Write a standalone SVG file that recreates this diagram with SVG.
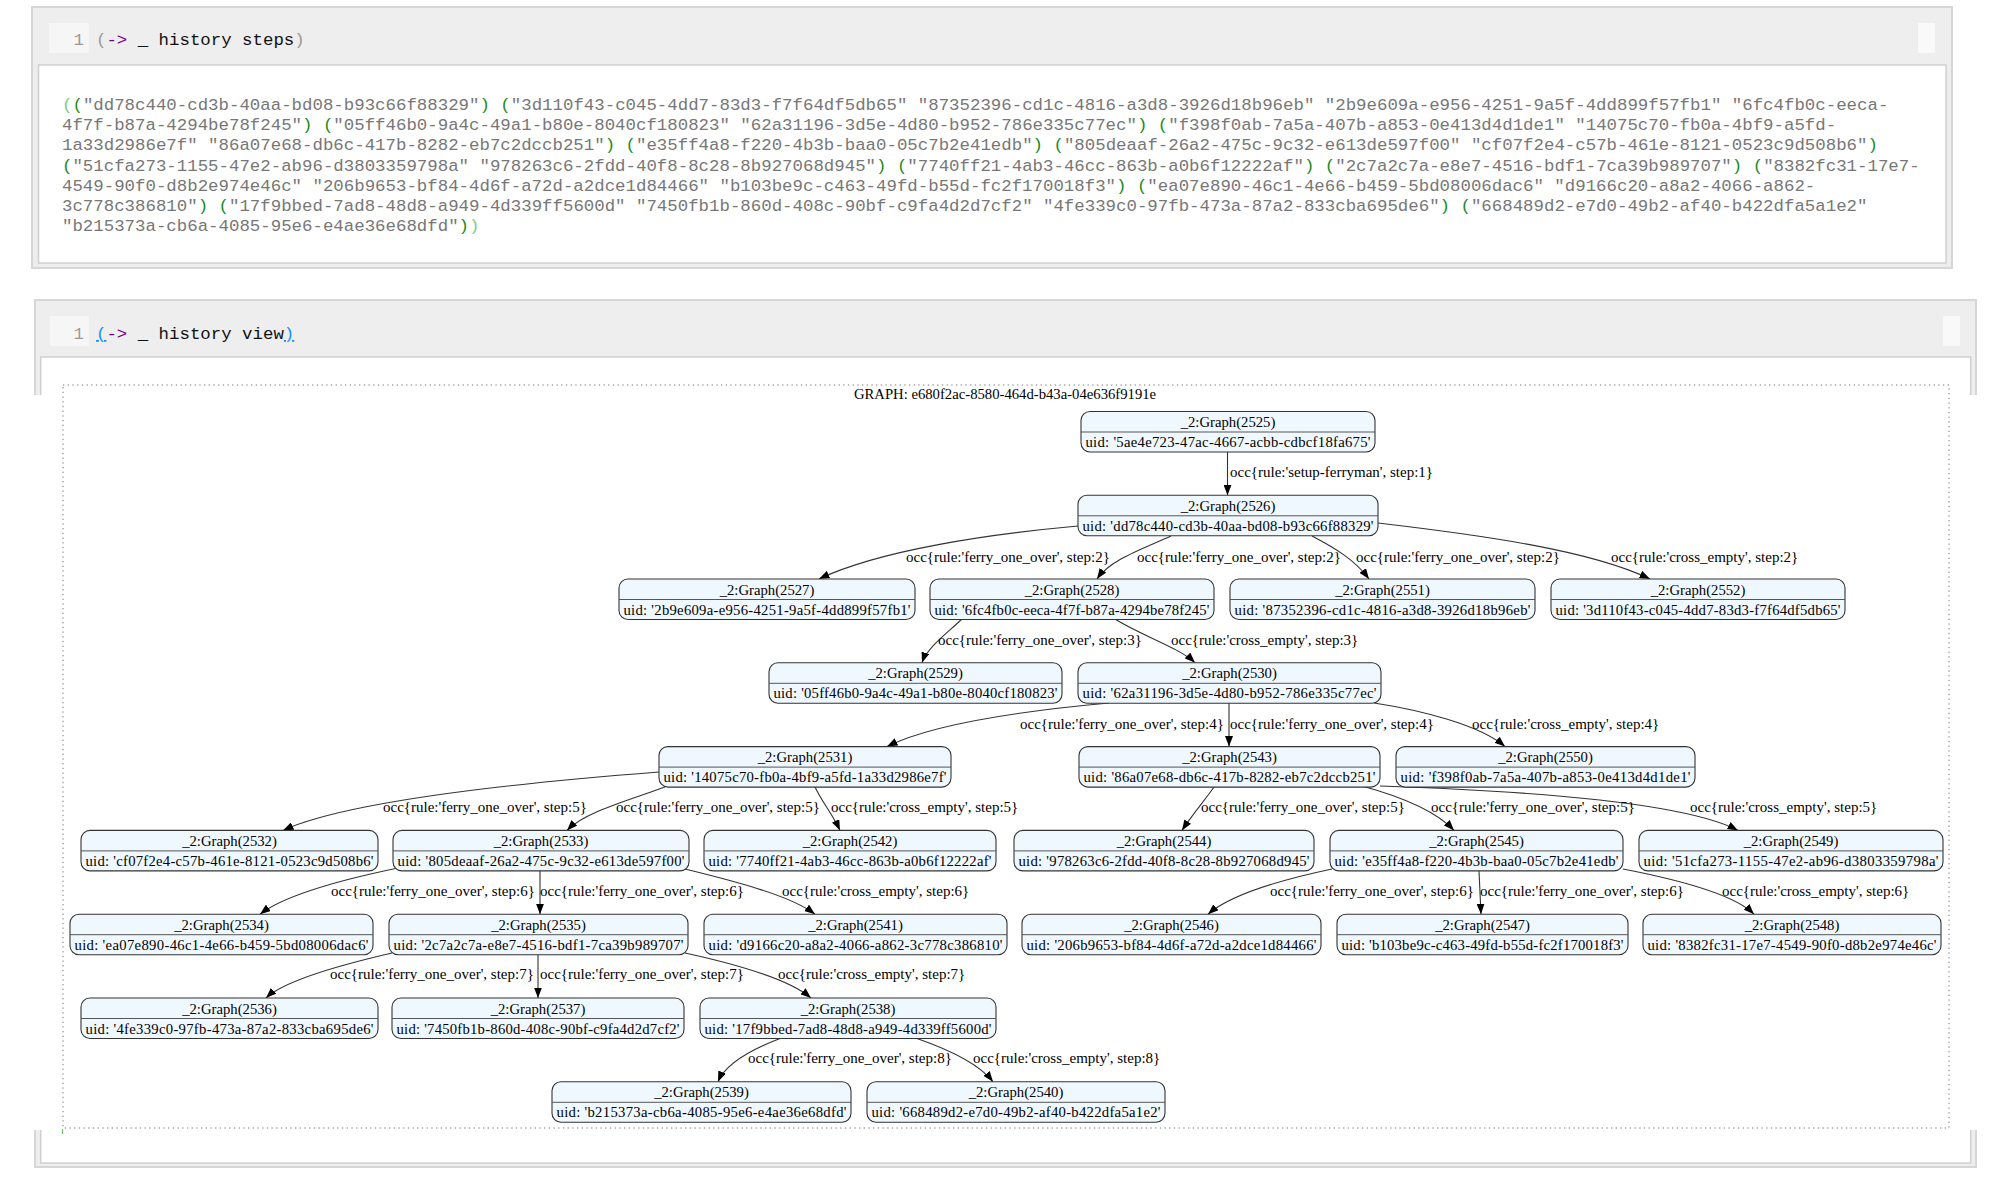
<svg xmlns="http://www.w3.org/2000/svg" width="2002" height="1187" viewBox="0 0 2002 1187">
<style>
.m{font-family:"Liberation Mono",monospace;font-size:17.4px;fill:#777}
.p{fill:#1b8a1b}
.po{fill:#7ccf7c}
.ln{fill:#999}
.ar{fill:#770088}
.k{fill:#111}
.bl{fill:#1a8cff;text-decoration:underline}
.g{font-family:"Liberation Serif",serif;font-size:14.7px;fill:#000}
.lbl{font-family:"Liberation Serif",serif;font-size:15px;fill:#000}
.node rect{fill:#f0f8ff;stroke:#333;stroke-width:1.1}
.node line{stroke:#555;stroke-width:1}
.node text{text-anchor:middle}
.edges path{fill:none;stroke:#333;stroke-width:1.1}
</style>
<defs>
<marker id="ah" markerWidth="11" markerHeight="8" refX="10.5" refY="4" orient="auto" markerUnits="userSpaceOnUse"><path d="M0,0 L10.5,4 L0,8 z" fill="#000"/></marker>
</defs>
<rect width="2002" height="1187" fill="#fff"/>
<!-- cell 1 -->
<g id="cell1">
<rect x="32" y="7" width="1920" height="261" fill="#eeeeee" stroke="#d6d6d6" stroke-width="2"/>
<rect x="38.5" y="65" width="1907.5" height="198" fill="#fff" stroke="#cfcfcf" stroke-width="1.5"/>
<rect x="49" y="23" width="40" height="30" fill="#f6f6f6"/>
<rect x="1918" y="23" width="17" height="30" fill="#f9f9f9"/>
<text class="m ln" x="84" y="45" text-anchor="end">1</text>
<text class="m" x="96" y="45"><tspan class="ln">(</tspan><tspan class="ar">-&gt;</tspan><tspan class="k"> _ history steps</tspan><tspan class="ln">)</tspan></text>
<text class="m" x="62" y="110"><tspan class="po">(</tspan><tspan class="p">(</tspan>"dd78c440-cd3b-40aa-bd08-b93c66f88329"<tspan class="p">)</tspan> <tspan class="p">(</tspan>"3d110f43-c045-4dd7-83d3-f7f64df5db65" "87352396-cd1c-4816-a3d8-3926d18b96eb" "2b9e609a-e956-4251-9a5f-4dd899f57fb1" "6fc4fb0c-eeca-</text>
<text class="m" x="62" y="130.2">4f7f-b87a-4294be78f245"<tspan class="p">)</tspan> <tspan class="p">(</tspan>"05ff46b0-9a4c-49a1-b80e-8040cf180823" "62a31196-3d5e-4d80-b952-786e335c77ec"<tspan class="p">)</tspan> <tspan class="p">(</tspan>"f398f0ab-7a5a-407b-a853-0e413d4d1de1" "14075c70-fb0a-4bf9-a5fd-</text>
<text class="m" x="62" y="150.4">1a33d2986e7f" "86a07e68-db6c-417b-8282-eb7c2dccb251"<tspan class="p">)</tspan> <tspan class="p">(</tspan>"e35ff4a8-f220-4b3b-baa0-05c7b2e41edb"<tspan class="p">)</tspan> <tspan class="p">(</tspan>"805deaaf-26a2-475c-9c32-e613de597f00" "cf07f2e4-c57b-461e-8121-0523c9d508b6"<tspan class="p">)</tspan></text>
<text class="m" x="62" y="170.6"><tspan class="p">(</tspan>"51cfa273-1155-47e2-ab96-d3803359798a" "978263c6-2fdd-40f8-8c28-8b927068d945"<tspan class="p">)</tspan> <tspan class="p">(</tspan>"7740ff21-4ab3-46cc-863b-a0b6f12222af"<tspan class="p">)</tspan> <tspan class="p">(</tspan>"2c7a2c7a-e8e7-4516-bdf1-7ca39b989707"<tspan class="p">)</tspan> <tspan class="p">(</tspan>"8382fc31-17e7-</text>
<text class="m" x="62" y="190.8">4549-90f0-d8b2e974e46c" "206b9653-bf84-4d6f-a72d-a2dce1d84466" "b103be9c-c463-49fd-b55d-fc2f170018f3"<tspan class="p">)</tspan> <tspan class="p">(</tspan>"ea07e890-46c1-4e66-b459-5bd08006dac6" "d9166c20-a8a2-4066-a862-</text>
<text class="m" x="62" y="211">3c778c386810"<tspan class="p">)</tspan> <tspan class="p">(</tspan>"17f9bbed-7ad8-48d8-a949-4d339ff5600d" "7450fb1b-860d-408c-90bf-c9fa4d2d7cf2" "4fe339c0-97fb-473a-87a2-833cba695de6"<tspan class="p">)</tspan> <tspan class="p">(</tspan>"668489d2-e7d0-49b2-af40-b422dfa5a1e2"</text>
<text class="m" x="62" y="231.2">"b215373a-cb6a-4085-95e6-e4ae36e68dfd"<tspan class="p">)</tspan><tspan class="po">)</tspan></text>
</g>
<!-- cell 2 -->
<g id="cell2">
<rect x="35" y="300" width="1941" height="867" fill="#eeeeee" stroke="#d6d6d6" stroke-width="2"/>
<rect x="40.7" y="357" width="1930" height="806" fill="#fff" stroke="#cfcfcf" stroke-width="1.5"/>
<rect x="0" y="395" width="2002" height="735" fill="#fff"/>
<rect x="50" y="316" width="39" height="30" fill="#f6f6f6"/>
<rect x="1943" y="316" width="17" height="30" fill="#f9f9f9"/>
<text class="m ln" x="84" y="339" text-anchor="end">1</text>
<text class="m" x="96" y="339"><tspan class="bl">(</tspan><tspan class="ar">-&gt;</tspan><tspan class="k"> _ history view</tspan><tspan class="bl">)</tspan></text>
<rect x="63" y="385" width="1886" height="743" fill="none" stroke="#777" stroke-width="1" stroke-dasharray="1.3,3.4"/>
<line x1="62.5" y1="1129" x2="62.5" y2="1134" stroke="#5c5" stroke-width="1"/>
<text class="g" x="1005" y="399" text-anchor="middle">GRAPH: e680f2ac-8580-464d-b43a-04e636f9191e</text>
</g>
<!-- connectors -->
<g id="connectors" class="edges">
<path marker-end="url(#ah)" d="M1227.5,452 L1227.5,495.3"/>
<path marker-end="url(#ah)" d="M1078,526 C990,534 880,550 819,579"/>
<path marker-end="url(#ah)" d="M1171,536 C1140,550 1110,560 1097,579"/>
<path marker-end="url(#ah)" d="M1312,536 C1335,548 1355,560 1369,579"/>
<path marker-end="url(#ah)" d="M1378,523 C1480,535 1590,550 1650,579"/>
<path marker-end="url(#ah)" d="M962,619 C945,635 927,648 922,662.8"/>
<path marker-end="url(#ah)" d="M1115,619 C1140,635 1180,648 1195,662.8"/>
<path marker-end="url(#ah)" d="M1109,703 C1010,712 930,725 887,746.6"/>
<path marker-end="url(#ah)" d="M1229,703 L1229,746.6"/>
<path marker-end="url(#ah)" d="M1374,703 C1420,710 1480,725 1505,746.6"/>
<path marker-end="url(#ah)" d="M659,772 C530,782 350,800 283,830.4"/>
<path marker-end="url(#ah)" d="M665,787 C630,800 585,812 567,830.4"/>
<path marker-end="url(#ah)" d="M815,787 C822,802 833,815 840,830.4"/>
<path marker-end="url(#ah)" d="M1214,787 C1205,800 1192,815 1182,830.4"/>
<path marker-end="url(#ah)" d="M1362,786 C1395,795 1435,810 1454,830.4"/>
<path marker-end="url(#ah)" d="M1380,786 C1500,790 1680,800 1738,830.4"/>
<path marker-end="url(#ah)" d="M398,868 C340,880 285,895 260,914.2"/>
<path marker-end="url(#ah)" d="M540,871 L540,914.2"/>
<path marker-end="url(#ah)" d="M681,868 C730,880 790,895 815,914.2"/>
<path marker-end="url(#ah)" d="M1332,869 C1280,880 1230,895 1208,914.2"/>
<path marker-end="url(#ah)" d="M1479,871 L1481,914.2"/>
<path marker-end="url(#ah)" d="M1623,869 C1680,880 1735,895 1754,914.2"/>
<path marker-end="url(#ah)" d="M392,953 C340,965 285,980 266,998"/>
<path marker-end="url(#ah)" d="M538,954.7 L538,998"/>
<path marker-end="url(#ah)" d="M685,953 C740,965 790,980 811,998"/>
<path marker-end="url(#ah)" d="M780,1038.5 C750,1050 725,1065 718,1081.8"/>
<path marker-end="url(#ah)" d="M917,1038.5 C950,1050 980,1065 993,1081.8"/>
<text class="lbl" x="1230" y="477">occ{rule:'setup-ferryman', step:1}</text>
<text class="lbl" x="906" y="562">occ{rule:'ferry_one_over', step:2}</text>
<text class="lbl" x="1137" y="562">occ{rule:'ferry_one_over', step:2}</text>
<text class="lbl" x="1356" y="562">occ{rule:'ferry_one_over', step:2}</text>
<text class="lbl" x="1611" y="562">occ{rule:'cross_empty', step:2}</text>
<text class="lbl" x="938" y="645">occ{rule:'ferry_one_over', step:3}</text>
<text class="lbl" x="1171" y="645">occ{rule:'cross_empty', step:3}</text>
<text class="lbl" x="1020" y="729">occ{rule:'ferry_one_over', step:4}</text>
<text class="lbl" x="1230" y="729">occ{rule:'ferry_one_over', step:4}</text>
<text class="lbl" x="1472" y="729">occ{rule:'cross_empty', step:4}</text>
<text class="lbl" x="383" y="812">occ{rule:'ferry_one_over', step:5}</text>
<text class="lbl" x="616" y="812">occ{rule:'ferry_one_over', step:5}</text>
<text class="lbl" x="831" y="812">occ{rule:'cross_empty', step:5}</text>
<text class="lbl" x="1201" y="812">occ{rule:'ferry_one_over', step:5}</text>
<text class="lbl" x="1431" y="812">occ{rule:'ferry_one_over', step:5}</text>
<text class="lbl" x="1690" y="812">occ{rule:'cross_empty', step:5}</text>
<text class="lbl" x="331" y="896">occ{rule:'ferry_one_over', step:6}</text>
<text class="lbl" x="540" y="896">occ{rule:'ferry_one_over', step:6}</text>
<text class="lbl" x="782" y="896">occ{rule:'cross_empty', step:6}</text>
<text class="lbl" x="1270" y="896">occ{rule:'ferry_one_over', step:6}</text>
<text class="lbl" x="1480" y="896">occ{rule:'ferry_one_over', step:6}</text>
<text class="lbl" x="1722" y="896">occ{rule:'cross_empty', step:6}</text>
<text class="lbl" x="330" y="979">occ{rule:'ferry_one_over', step:7}</text>
<text class="lbl" x="540" y="979">occ{rule:'ferry_one_over', step:7}</text>
<text class="lbl" x="778" y="979">occ{rule:'cross_empty', step:7}</text>
<text class="lbl" x="748" y="1063">occ{rule:'ferry_one_over', step:8}</text>
<text class="lbl" x="973" y="1063">occ{rule:'cross_empty', step:8}</text>
</g>
<!-- nodes -->
<g id="n2525" class="node g" transform="translate(1081,411.5)"><rect width="294" height="40.5" rx="9"/><line x1="0" y1="20.5" x2="294" y2="20.5"/><text x="147" y="15.5">_2:Graph(2525)</text><text x="147" y="35.5" textLength="285">uid: '5ae4e723-47ac-4667-acbb-cdbcf18fa675'</text></g>
<g id="n2526" class="node g" transform="translate(1078,495.3)"><rect width="300" height="40.5" rx="9"/><line x1="0" y1="20.5" x2="300" y2="20.5"/><text x="150" y="15.5">_2:Graph(2526)</text><text x="150" y="35.5" textLength="291">uid: 'dd78c440-cd3b-40aa-bd08-b93c66f88329'</text></g>
<g id="n2527" class="node g" transform="translate(619,579)"><rect width="296" height="40.5" rx="9"/><line x1="0" y1="20.5" x2="296" y2="20.5"/><text x="148" y="15.5">_2:Graph(2527)</text><text x="148" y="35.5" textLength="287">uid: '2b9e609a-e956-4251-9a5f-4dd899f57fb1'</text></g>
<g id="n2528" class="node g" transform="translate(930,579)"><rect width="284" height="40.5" rx="9"/><line x1="0" y1="20.5" x2="284" y2="20.5"/><text x="142" y="15.5">_2:Graph(2528)</text><text x="142" y="35.5" textLength="275">uid: '6fc4fb0c-eeca-4f7f-b87a-4294be78f245'</text></g>
<g id="n2551" class="node g" transform="translate(1230,579)"><rect width="305" height="40.5" rx="9"/><line x1="0" y1="20.5" x2="305" y2="20.5"/><text x="152.5" y="15.5">_2:Graph(2551)</text><text x="152.5" y="35.5" textLength="296">uid: '87352396-cd1c-4816-a3d8-3926d18b96eb'</text></g>
<g id="n2552" class="node g" transform="translate(1551,579)"><rect width="294" height="40.5" rx="9"/><line x1="0" y1="20.5" x2="294" y2="20.5"/><text x="147" y="15.5">_2:Graph(2552)</text><text x="147" y="35.5" textLength="285">uid: '3d110f43-c045-4dd7-83d3-f7f64df5db65'</text></g>
<g id="n2529" class="node g" transform="translate(769,662.8)"><rect width="293" height="40.5" rx="9"/><line x1="0" y1="20.5" x2="293" y2="20.5"/><text x="146.5" y="15.5">_2:Graph(2529)</text><text x="146.5" y="35.5" textLength="284">uid: '05ff46b0-9a4c-49a1-b80e-8040cf180823'</text></g>
<g id="n2530" class="node g" transform="translate(1078,662.8)"><rect width="303" height="40.5" rx="9"/><line x1="0" y1="20.5" x2="303" y2="20.5"/><text x="151.5" y="15.5">_2:Graph(2530)</text><text x="151.5" y="35.5" textLength="294">uid: '62a31196-3d5e-4d80-b952-786e335c77ec'</text></g>
<g id="n2531" class="node g" transform="translate(659,746.6)"><rect width="292" height="40.5" rx="9"/><line x1="0" y1="20.5" x2="292" y2="20.5"/><text x="146" y="15.5">_2:Graph(2531)</text><text x="146" y="35.5" textLength="283">uid: '14075c70-fb0a-4bf9-a5fd-1a33d2986e7f'</text></g>
<g id="n2543" class="node g" transform="translate(1079,746.6)"><rect width="301" height="40.5" rx="9"/><line x1="0" y1="20.5" x2="301" y2="20.5"/><text x="150.5" y="15.5">_2:Graph(2543)</text><text x="150.5" y="35.5" textLength="292">uid: '86a07e68-db6c-417b-8282-eb7c2dccb251'</text></g>
<g id="n2550" class="node g" transform="translate(1396,746.6)"><rect width="299" height="40.5" rx="9"/><line x1="0" y1="20.5" x2="299" y2="20.5"/><text x="149.5" y="15.5">_2:Graph(2550)</text><text x="149.5" y="35.5" textLength="290">uid: 'f398f0ab-7a5a-407b-a853-0e413d4d1de1'</text></g>
<g id="n2532" class="node g" transform="translate(81,830.4)"><rect width="297" height="40.5" rx="9"/><line x1="0" y1="20.5" x2="297" y2="20.5"/><text x="148.5" y="15.5">_2:Graph(2532)</text><text x="148.5" y="35.5" textLength="288">uid: 'cf07f2e4-c57b-461e-8121-0523c9d508b6'</text></g>
<g id="n2533" class="node g" transform="translate(393,830.4)"><rect width="296" height="40.5" rx="9"/><line x1="0" y1="20.5" x2="296" y2="20.5"/><text x="148" y="15.5">_2:Graph(2533)</text><text x="148" y="35.5" textLength="287">uid: '805deaaf-26a2-475c-9c32-e613de597f00'</text></g>
<g id="n2542" class="node g" transform="translate(704,830.4)"><rect width="292" height="40.5" rx="9"/><line x1="0" y1="20.5" x2="292" y2="20.5"/><text x="146" y="15.5">_2:Graph(2542)</text><text x="146" y="35.5" textLength="283">uid: '7740ff21-4ab3-46cc-863b-a0b6f12222af'</text></g>
<g id="n2544" class="node g" transform="translate(1014,830.4)"><rect width="300" height="40.5" rx="9"/><line x1="0" y1="20.5" x2="300" y2="20.5"/><text x="150" y="15.5">_2:Graph(2544)</text><text x="150" y="35.5" textLength="291">uid: '978263c6-2fdd-40f8-8c28-8b927068d945'</text></g>
<g id="n2545" class="node g" transform="translate(1330,830.4)"><rect width="293" height="40.5" rx="9"/><line x1="0" y1="20.5" x2="293" y2="20.5"/><text x="146.5" y="15.5">_2:Graph(2545)</text><text x="146.5" y="35.5" textLength="284">uid: 'e35ff4a8-f220-4b3b-baa0-05c7b2e41edb'</text></g>
<g id="n2549" class="node g" transform="translate(1639,830.4)"><rect width="304" height="40.5" rx="9"/><line x1="0" y1="20.5" x2="304" y2="20.5"/><text x="152" y="15.5">_2:Graph(2549)</text><text x="152" y="35.5" textLength="295">uid: '51cfa273-1155-47e2-ab96-d3803359798a'</text></g>
<g id="n2534" class="node g" transform="translate(70,914.2)"><rect width="303" height="40.5" rx="9"/><line x1="0" y1="20.5" x2="303" y2="20.5"/><text x="151.5" y="15.5">_2:Graph(2534)</text><text x="151.5" y="35.5" textLength="294">uid: 'ea07e890-46c1-4e66-b459-5bd08006dac6'</text></g>
<g id="n2535" class="node g" transform="translate(389,914.2)"><rect width="299" height="40.5" rx="9"/><line x1="0" y1="20.5" x2="299" y2="20.5"/><text x="149.5" y="15.5">_2:Graph(2535)</text><text x="149.5" y="35.5" textLength="290">uid: '2c7a2c7a-e8e7-4516-bdf1-7ca39b989707'</text></g>
<g id="n2541" class="node g" transform="translate(704,914.2)"><rect width="303" height="40.5" rx="9"/><line x1="0" y1="20.5" x2="303" y2="20.5"/><text x="151.5" y="15.5">_2:Graph(2541)</text><text x="151.5" y="35.5" textLength="294">uid: 'd9166c20-a8a2-4066-a862-3c778c386810'</text></g>
<g id="n2546" class="node g" transform="translate(1022,914.2)"><rect width="299" height="40.5" rx="9"/><line x1="0" y1="20.5" x2="299" y2="20.5"/><text x="149.5" y="15.5">_2:Graph(2546)</text><text x="149.5" y="35.5" textLength="290">uid: '206b9653-bf84-4d6f-a72d-a2dce1d84466'</text></g>
<g id="n2547" class="node g" transform="translate(1337,914.2)"><rect width="291" height="40.5" rx="9"/><line x1="0" y1="20.5" x2="291" y2="20.5"/><text x="145.5" y="15.5">_2:Graph(2547)</text><text x="145.5" y="35.5" textLength="282">uid: 'b103be9c-c463-49fd-b55d-fc2f170018f3'</text></g>
<g id="n2548" class="node g" transform="translate(1643,914.2)"><rect width="298" height="40.5" rx="9"/><line x1="0" y1="20.5" x2="298" y2="20.5"/><text x="149" y="15.5">_2:Graph(2548)</text><text x="149" y="35.5" textLength="289">uid: '8382fc31-17e7-4549-90f0-d8b2e974e46c'</text></g>
<g id="n2536" class="node g" transform="translate(81,998)"><rect width="297" height="40.5" rx="9"/><line x1="0" y1="20.5" x2="297" y2="20.5"/><text x="148.5" y="15.5">_2:Graph(2536)</text><text x="148.5" y="35.5" textLength="288">uid: '4fe339c0-97fb-473a-87a2-833cba695de6'</text></g>
<g id="n2537" class="node g" transform="translate(392,998)"><rect width="292" height="40.5" rx="9"/><line x1="0" y1="20.5" x2="292" y2="20.5"/><text x="146" y="15.5">_2:Graph(2537)</text><text x="146" y="35.5" textLength="283">uid: '7450fb1b-860d-408c-90bf-c9fa4d2d7cf2'</text></g>
<g id="n2538" class="node g" transform="translate(700,998)"><rect width="296" height="40.5" rx="9"/><line x1="0" y1="20.5" x2="296" y2="20.5"/><text x="148" y="15.5">_2:Graph(2538)</text><text x="148" y="35.5" textLength="287">uid: '17f9bbed-7ad8-48d8-a949-4d339ff5600d'</text></g>
<g id="n2539" class="node g" transform="translate(552,1081.8)"><rect width="299" height="40.5" rx="9"/><line x1="0" y1="20.5" x2="299" y2="20.5"/><text x="149.5" y="15.5">_2:Graph(2539)</text><text x="149.5" y="35.5" textLength="290">uid: 'b215373a-cb6a-4085-95e6-e4ae36e68dfd'</text></g>
<g id="n2540" class="node g" transform="translate(867,1081.8)"><rect width="298" height="40.5" rx="9"/><line x1="0" y1="20.5" x2="298" y2="20.5"/><text x="149" y="15.5">_2:Graph(2540)</text><text x="149" y="35.5" textLength="289">uid: '668489d2-e7d0-49b2-af40-b422dfa5a1e2'</text></g>
</svg>
